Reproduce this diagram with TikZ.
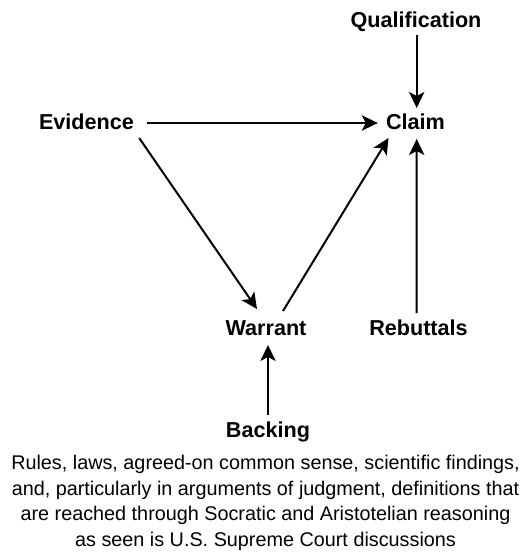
\documentclass[tikz,border=0pt]{standalone}
\usepackage{fontspec}
\setmainfont{Liberation Sans}
\usetikzlibrary{arrows.meta,calc}
\begin{document}
\begin{tikzpicture}[x=0.75pt,y=-0.75pt,
  lbl/.style={font=\bfseries\fontsize{16.2}{19}\selectfont, inner sep=0pt, anchor=base},
  arr/.style={line width=1.5pt, -{Stealth[length=12pt,width=11.5pt,inset=3pt]}}]
\useasboundingbox (0,0) rectangle (528,554);
\node[lbl] (q) at (416,27) {Qualification};
\node[lbl] (c) at (415.5,129) {Claim};
\node[lbl] (ev) at (86.5,129) {Evidence};
\node[lbl] (w) at (266,335) {Warrant};
\node[lbl] (r) at (418.5,335) {Rebuttals};
\node[lbl] (b) at (268,437) {Backing};
\node[font=\fontsize{14.85}{19.2}\selectfont, inner sep=0pt, align=center, anchor=north] (t) at (265.5,455)
  {Rules, laws, agreed-on common sense, scientific findings,\\
   and, particularly in arguments of judgment, definitions that\\
   are reached through Socratic and Aristotelian reasoning\\
   as seen is U.S. Supreme Court discussions};
\draw[arr] ($(q.base)+(0.7,8)$) -- ($(c.base)+(1.2,-21)$);
\draw[arr] ($(ev.base east)+(13,-6)$) -- ($(c.base west)+(-8,-6)$);
\draw[arr] ($(ev.base east)+(5,9)$) -- ($(w.base)+(-9,-26)$);
\draw[arr] ($(w.base)+(17,-24)$) -- ($(c.base)+(-27,9)$);
\draw[arr] ($(r.base)+(-1.8,-22)$) -- ($(c.base)+(1.2,10)$);
\draw[arr] ($(b.base)+(0,-22)$) -- ($(w.base)+(2,10)$);
\end{tikzpicture}
\end{document}
